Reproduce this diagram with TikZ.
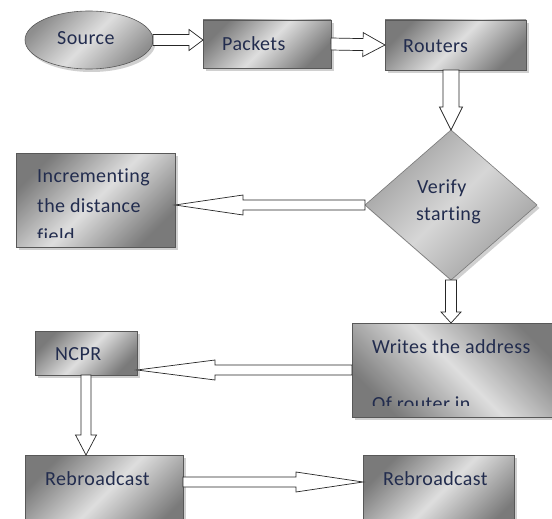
\documentclass[tikz,border=0pt]{standalone}
\usepackage{fontspec}
\setmainfont{Carlito}[LetterSpace=2, RawFeature={-liga}]
\usetikzlibrary{shapes.geometric,shadows,calc}

\definecolor{boxdark}{RGB}{122,122,122}
\definecolor{boxlight}{RGB}{222,222,222}
\definecolor{diadark}{RGB}{158,158,158}
\definecolor{dialight}{RGB}{214,214,214}
\definecolor{labelink}{RGB}{34,44,78}
\definecolor{edgegray}{RGB}{88,88,88}

\tikzset{
  softshadow/.style={drop shadow={shadow xshift=2.5pt, shadow yshift=-3pt,
      opacity=0.3, fill=black!60}},
  flowbox/.style={rectangle, draw=edgegray, line width=0.6pt, inner sep=0pt,
      outer sep=0pt, anchor=north west, softshadow,
      top color=boxdark, bottom color=boxdark, middle color=boxlight,
      shading angle=45},
  startoval/.style={ellipse, draw=edgegray, line width=0.6pt, inner sep=0pt,
      outer sep=0pt, softshadow,
      top color=boxdark!85, bottom color=boxdark!85, middle color=boxlight,
      shading angle=45},
  decision/.style={diamond, draw=edgegray!80, line width=0.6pt, inner sep=0pt,
      outer sep=0pt, softshadow,
      top color=diadark, bottom color=diadark, middle color=dialight,
      shading angle=45},
  label/.style={anchor=base west, inner sep=0pt, text=labelink,
      font=\fontsize{20}{24}\selectfont},
  % hollow block arrow: #1 half shaft width, #2 half head width, #3 head length
  blockarrow/.style n args={3}{draw=black!85, fill=white, line width=0.7pt,
      line join=miter,
      to path={let \p1=(\tikztostart), \p2=(\tikztotarget),
        \n1={atan2(\y2-\y1,\x2-\x1)}, \n2={veclen(\x2-\x1,\y2-\y1)} in
        ([shift={(\p1)},rotate=\n1]0pt,#1)
        -- ([shift={(\p1)},rotate=\n1]\n2-#3,#1)
        -- ([shift={(\p1)},rotate=\n1]\n2-#3,#2)
        -- ([shift={(\p1)},rotate=\n1]\n2,0pt)
        -- ([shift={(\p1)},rotate=\n1]\n2-#3,-#2)
        -- ([shift={(\p1)},rotate=\n1]\n2-#3,-#1)
        -- ([shift={(\p1)},rotate=\n1]0pt,-#1) -- cycle}},
}

\begin{document}
\begin{tikzpicture}[x=1pt, y=-1pt]
\useasboundingbox[fill=white] (0,0) rectangle (552,519);

% shapes
\node[startoval, minimum width=128pt, minimum height=58pt] (src) at (89,40) {};
\node[flowbox, minimum width=128pt, minimum height=48pt] (pkt) at (203,20) {};
\node[flowbox, minimum width=141pt, minimum height=50pt] (rtr) at (385,20) {};
\node[decision, minimum width=172pt, minimum height=150pt, aspect=1.147] (dia) at (451,205) {};
\node[flowbox, minimum width=159pt, minimum height=94pt] (inc) at (16,153) {};
\node[flowbox, minimum width=210pt, minimum height=94pt, shading angle=-45] (wrt) at (352,323) {};
\node[flowbox, minimum width=102pt, minimum height=44pt] (ncpr) at (35,331) {};
\node[flowbox, minimum width=158pt, minimum height=80pt] (rb1) at (25,455) {};
\node[flowbox, minimum width=151pt, minimum height=80pt] (rb2) at (363,455) {};

% labels
\node[label] (src-t) at (57,45) {Source};
\node[label] (pkt-t) at (222,51) {Packets};
\node[label] (rtr-t) at (403,53) {Routers};
\node[label] (dia-t1) at (417,193) {Verify};
\node[label] (dia-t2) at (416,220) {starting};
\node[label] (inc-t1) at (37,182) {Incrementing};
\node[label] (inc-t2) at (37,212) {the distance};
\begin{scope}
  \clip (16,150) rectangle (175,237);
  \node[label] (inc-t3) at (37,242) {field};
\end{scope}
\node[label] (wrt-t1) at (372,353) {Writes the address};
\begin{scope}
  \clip (352,380) rectangle (552,405);
  \node[label] (wrt-t2) at (372,410) {Of router in};
\end{scope}
\node[label] (ncpr-t) at (55,360) {NCPR};
\node[label] (rb1-t) at (45,485) {Rebroadcast};
\node[label] (rb2-t) at (383,485) {Rebroadcast};

% connectors
\coordinate (bcast) at (0,482);
\draw[blockarrow={5.5pt}{10.5pt}{14pt}] (src.east) to (src.east -| pkt.west);
\draw[blockarrow={6pt}{12pt}{22pt}] (pkt.east) to (rtr.west);
\draw[blockarrow={8pt}{11.5pt}{23pt}] (dia.north |- rtr.south) to (dia.north);
\draw[blockarrow={5pt}{10pt}{68pt}] (dia.west) to (dia.west -| inc.east);
\draw[blockarrow={5.5pt}{10pt}{11pt}] (dia.south) to (dia.south |- wrt.north);
\draw[blockarrow={5pt}{10pt}{78pt}] (wrt.west) to (wrt.west -| ncpr.east);
\draw[blockarrow={5pt}{10.5pt}{20pt}] (ncpr.south) to (ncpr.south |- rb1.north);
\draw[blockarrow={5pt}{10pt}{67pt}] (rb1.east |- bcast) to (rb2.west |- bcast);
\end{tikzpicture}
\end{document}
